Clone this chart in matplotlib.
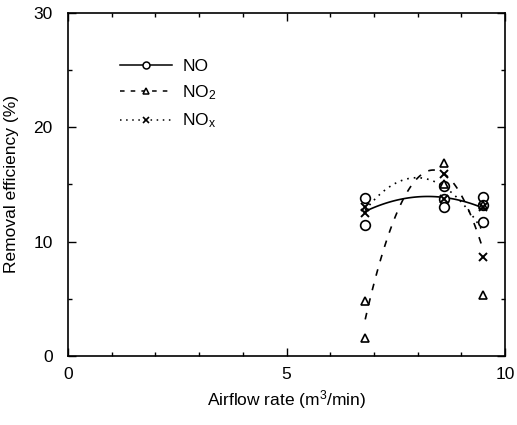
import numpy as np
import matplotlib.pyplot as plt

plt.rcParams['font.family'] = ['Liberation Sans', 'DejaVu Sans']
plt.rcParams['mathtext.fontset'] = 'custom'
plt.rcParams['mathtext.rm'] = 'Liberation Sans'
plt.rcParams['mathtext.it'] = 'Liberation Sans'

# airflow rate (m3/min) and removal efficiency (%)
no_x = [6.8, 6.8, 8.6, 8.6, 8.6, 9.5, 9.5, 9.5]
no_y = [13.8, 11.5, 14.9, 13.7, 13.0, 13.9, 13.2, 11.7]
no2_x = [6.8, 6.8, 8.6, 8.6, 9.5, 9.5]
no2_y = [4.8, 1.6, 16.9, 15.0, 13.2, 5.3]
nox_x = [6.8, 6.8, 8.6, 8.6, 9.5, 9.5]
nox_y = [12.5, 13.0, 15.9, 13.7, 13.0, 8.7]

fig = plt.figure(figsize=(5.17, 4.25), dpi=100)
ax = fig.add_axes([0.1315, 0.1624, 0.8455, 0.807])

xx = np.linspace(6.8, 9.5, 100)

def fitline(x, y):
    # 2nd order fit, as drawn in the original
    c = np.polyfit(x, y, 2)
    return np.polyval(c, xx)

ax.plot(xx, fitline(no_x, no_y), 'k-', lw=1.2)
ax.plot(xx, fitline(no2_x, no2_y), 'k', ls=(0, (4, 5)), lw=1.2)
ax.plot(xx, fitline(nox_x, nox_y), 'k', ls=(0, (1, 3)), lw=1.2)

ax.plot(no_x, no_y, 'o', mfc='white', mec='k', ms=7, mew=1.2)
ax.plot(no2_x, no2_y, '^', mfc='white', mec='k', ms=6, mew=1.2)
ax.plot(nox_x, nox_y, 'x', color='k', ms=6, mew=1.4)

# legend handles
h1, = ax.plot([], [], 'k-', marker='o', mfc='white', mec='k', ms=5, mew=1.1, lw=1.1)
h2, = ax.plot([], [], 'k', ls=(0, (3, 4)), marker='^', mfc='white', mec='k', ms=5, mew=1.1, lw=1.1)
h3, = ax.plot([], [], 'k', ls=(0, (1, 3)), marker='x', ms=5, mew=1.2, lw=1.1)
ax.legend([h1, h2, h3], ['NO', 'NO$_2$', 'NO$_x$'], loc='upper left',
          bbox_to_anchor=(0.083, 0.912), frameon=False, handlelength=3.0,
          labelspacing=0.55, fontsize=12.5, handletextpad=0.6)

ax.set_xlim(0, 10)
ax.set_ylim(0, 30)
ax.set_xticks([0, 5, 10])
ax.set_xticks(np.arange(0, 11, 1), minor=True)
ax.set_yticks([0, 10, 20, 30])
ax.set_yticks([5, 15, 25], minor=True)
ax.tick_params(which='both', direction='in', top=True, right=True, labelsize=12.5)
ax.tick_params(which='major', length=6, width=1)
ax.tick_params(which='minor', length=3, width=1)
ax.tick_params(axis='x', pad=8)
ax.tick_params(axis='y', pad=11)
for s in ax.spines.values():
    s.set_linewidth(1.2)

ax.set_xlabel('Airflow rate (m$^3$/min)', fontsize=12.5)
ax.set_ylabel('Removal efficiency (%)', fontsize=12.5, labelpad=10)

fig.savefig('out.png', dpi=100)
